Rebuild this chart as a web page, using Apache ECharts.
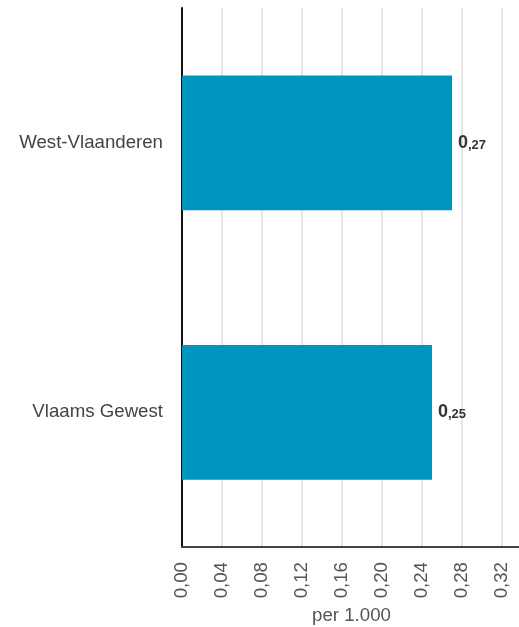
<!DOCTYPE html>
<html><head><meta charset="utf-8">
<script src="https://cdn.jsdelivr.net/npm/echarts@6/dist/echarts.min.js"></script>
<style>html,body{margin:0;padding:0;background:#fff}#c{width:519px;height:627px}</style>
</head><body><div id="c"></div>
<script>
var categories = ['Vlaams Gewest', 'West-Vlaanderen'];
var values = [0.25, 0.27];
var axisName = 'per 1.000';

var chart = echarts.init(document.getElementById('c'), null, {renderer: 'canvas'});
chart.setOption({
  animation: false,
  grid: {left: 182, right: -2, top: 8, bottom: 80, containLabel: false, outerBoundsMode: 'none'},
  xAxis: {
    type: 'value', min: 0, max: 0.339, interval: 0.04,
    name: axisName, nameLocation: 'middle', nameGap: 55,
    nameTextStyle: {fontFamily: 'Liberation Sans', fontSize: 18.67, color: '#555'},
    axisLine: {show: true, lineStyle: {color: '#444', width: 2}},
    axisTick: {show: false},
    axisLabel: {
      rotate: 90, fontFamily: 'Liberation Sans', fontSize: 18.67, color: '#555', margin: 15,
      showMaxLabel: false,
      formatter: function (v) { return v.toFixed(2).replace('.', ','); }
    },
    splitLine: {show: true, lineStyle: {color: '#e6e6e6', width: 2}}
  },
  yAxis: {
    type: 'category', data: categories,
    axisLine: {show: true, lineStyle: {color: '#111', width: 2}},
    axisTick: {show: false},
    axisLabel: {fontFamily: 'Liberation Sans', fontSize: 18.67, color: '#444', margin: 19}
  },
  series: [{
    type: 'bar', data: values, barWidth: '50%',
    itemStyle: {color: '#0095c0'},
    label: {
      show: true, position: 'right', distance: 6,
      formatter: function (p) {
        var s = p.value.toFixed(2).split('.');
        return '{a|' + s[0] + '}{b|,' + s[1] + '}';
      },
      rich: {
        a: {fontFamily: 'Liberation Sans', fontSize: 18, fontWeight: 'bold', color: '#333'},
        b: {fontFamily: 'Liberation Sans', fontSize: 13, fontWeight: 'bold', color: '#333', padding: [5, 0, 0, 0]}
      }
    }
  }]
});
</script></body></html>
